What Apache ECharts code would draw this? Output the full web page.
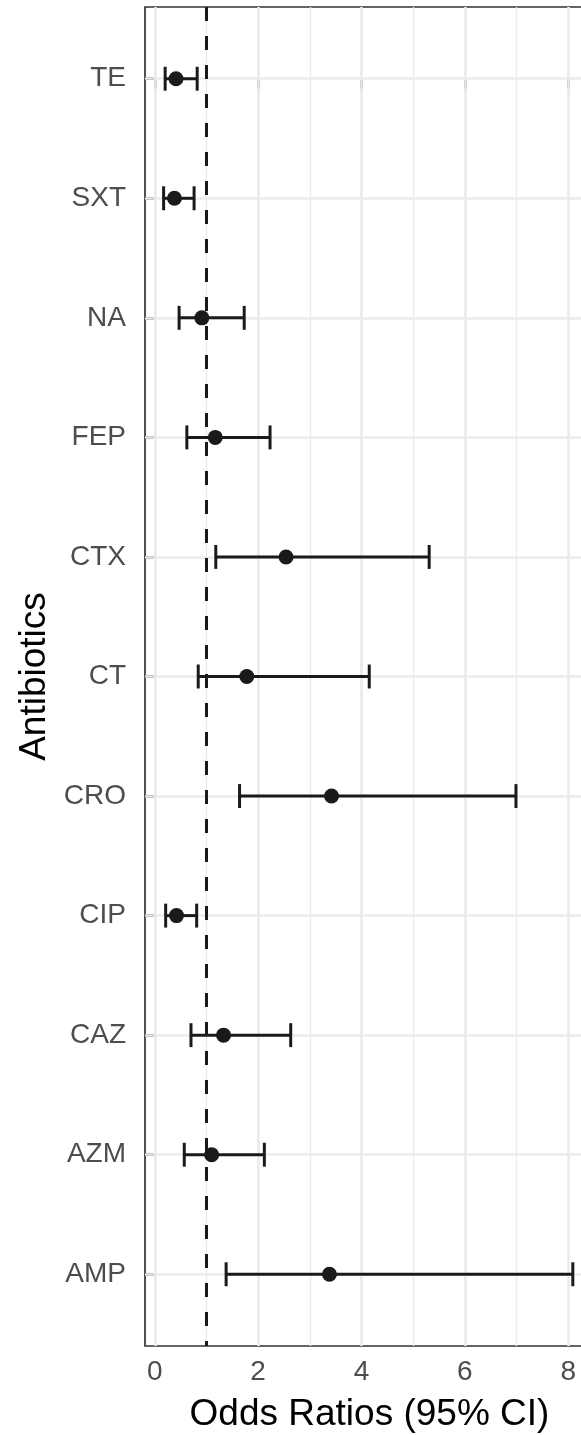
<!DOCTYPE html>
<html>
<head>
<meta charset="utf-8">
<script src="https://cdn.jsdelivr.net/npm/echarts@6/dist/echarts.min.js"></script>
<style>
  html, body { margin: 0; padding: 0; background: #fff; }
  #chart { width: 581px; height: 1435px; }
</style>
</head>
<body>
<div id="chart"></div>
<script>
// antibiotics, top to bottom
var categories = ['TE', 'SXT', 'NA', 'FEP', 'CTX', 'CT', 'CRO', 'CIP', 'CAZ', 'AZM', 'AMP'];
var oddsRatio = [0.41, 0.38, 0.91, 1.17, 2.54, 1.78, 3.42, 0.42, 1.33, 1.10, 3.38];
var ciLower = [0.20, 0.17, 0.47, 0.62, 1.18, 0.84, 1.64, 0.21, 0.70, 0.57, 1.38];
var ciUpper = [0.82, 0.76, 1.73, 2.23, 5.31, 4.15, 6.99, 0.81, 2.63, 2.12, 8.09];
var xMajorTicks = [0, 2, 4, 6, 8];
var xMinorTicks = [1, 3, 5, 7];
var refLine = 1;

var catIdx = categories.map(function (c, i) { return i; });
var fontFam = "'Liberation Sans', Arial, Helvetica, sans-serif";
var ink = '#1a1a1a';

var myChart = echarts.init(document.getElementById('chart'), null, { renderer: 'canvas' });

function gridLines(values, axis, width) {
    return values.map(function (v) {
        var d = {};
        d[axis] = v;
        d.lineStyle = { color: '#ebebeb', width: width, type: 'solid' };
        return d;
    });
}

var option = {
    animation: false,
    backgroundColor: '#fff',
    textStyle: { fontFamily: fontFam },
    grid: {
        left: 145,
        top: 7,
        width: 449,
        height: 1339,
        show: true,
        borderColor: '#333333',
        borderWidth: 1.7,
        backgroundColor: 'transparent',
        containLabel: false,
        outerBoundsMode: 'none'
    },
    xAxis: {
        type: 'value',
        min: -0.19,
        max: 8.5,
        name: 'Odds Ratios (95% CI)',
        nameLocation: 'middle',
        nameGap: 50,
        nameTextStyle: { fontSize: 37, color: '#000', fontFamily: fontFam },
        axisLine: { show: false },
        splitLine: { show: false },
        axisTick: {
            show: true,
            length: 10,
            customValues: xMajorTicks,
            lineStyle: { color: '#333333', width: 2.7 }
        },
        axisLabel: {
            customValues: xMajorTicks,
            margin: 12,
            fontSize: 28,
            color: '#4d4d4d',
            fontFamily: fontFam
        }
    },
    yAxis: {
        type: 'value',
        min: -0.6,
        max: 10.6,
        inverse: true,
        name: 'Antibiotics',
        nameLocation: 'middle',
        nameGap: 92,
        nameTextStyle: { fontSize: 37, color: '#000', fontFamily: fontFam },
        axisLine: { show: false },
        splitLine: { show: false },
        axisTick: {
            show: true,
            length: 10,
            customValues: catIdx,
            lineStyle: { color: '#333333', width: 2.7 }
        },
        axisLabel: {
            customValues: catIdx,
            margin: 19,
            fontSize: 28,
            color: '#4d4d4d',
            fontFamily: fontFam,
            formatter: function (v) { return categories[Math.round(v)]; }
        }
    },
    series: [
        {
            // panel grid lines
            type: 'line',
            data: [],
            z: 1,
            silent: true,
            markLine: {
                z: 1,
                silent: true,
                symbol: ['none', 'none'],
                label: { show: false },
                emphasis: { disabled: true },
                data: gridLines(xMinorTicks, 'xAxis', 1.3)
                    .concat(gridLines(xMajorTicks, 'xAxis', 2.7))
                    .concat(gridLines(catIdx, 'yAxis', 2.7))
            }
        },
        {
            // reference line at OR = 1
            type: 'line',
            data: [],
            z: 2,
            silent: true,
            markLine: {
                z: 2,
                silent: true,
                symbol: ['none', 'none'],
                label: { show: false },
                emphasis: { disabled: true },
                data: [{ xAxis: refLine, lineStyle: { color: ink, width: 3, type: [14, 15] } }]
            }
        },
        {
            // confidence intervals
            type: 'custom',
            z: 3,
            silent: true,
            data: catIdx.map(function (i) { return [ciLower[i], ciUpper[i], i]; }),
            renderItem: function (params, api) {
                var y = api.value(2);
                var lo = api.coord([api.value(0), y]);
                var hi = api.coord([api.value(1), y]);
                var h = api.size([0, 0.2])[1] / 2;
                var st = { stroke: ink, lineWidth: 3, fill: null };
                return {
                    type: 'group',
                    children: [
                        { type: 'line', shape: { x1: lo[0], y1: lo[1], x2: hi[0], y2: hi[1] }, style: st },
                        { type: 'line', shape: { x1: lo[0], y1: lo[1] - h, x2: lo[0], y2: lo[1] + h }, style: st },
                        { type: 'line', shape: { x1: hi[0], y1: hi[1] - h, x2: hi[0], y2: hi[1] + h }, style: st }
                    ]
                };
            }
        },
        {
            // point estimates
            type: 'scatter',
            z: 4,
            silent: true,
            symbol: 'circle',
            symbolSize: 15,
            itemStyle: { color: ink, opacity: 1 },
            data: catIdx.map(function (i) { return [oddsRatio[i], i]; })
        }
    ]
};

myChart.setOption(option);
window.addEventListener('resize', function () {
    myChart.resize();
});
</script>
</body>
</html>
